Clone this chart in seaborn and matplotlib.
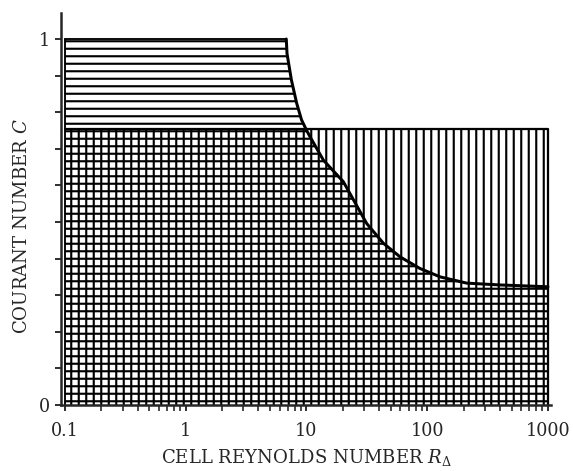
import numpy as np
import matplotlib
matplotlib.use("Agg")
import matplotlib.pyplot as plt
from matplotlib.ticker import NullFormatter, LogLocator
import seaborn as sns

# ---- data ----
reynolds = [6.8, 6.9, 7.5, 8.3, 9.1, 10.0, 10.7, 13.8, 20.2, 31.5, 43.3, 59.4, 87, 128, 212, 400, 1000]
courant = [1.0, 0.96, 0.888, 0.824, 0.779, 0.751, 0.733, 0.669, 0.610, 0.496, 0.442, 0.405, 0.373, 0.350, 0.333, 0.328, 0.323]
c_upper = 1.0          # upper limit of the horizontally hatched region
c_vertical_top = 0.755  # top of the vertically hatched region
re_min, re_max = 0.1, 1000

xticks = [0.1, 1, 10, 100, 1000]
xtick_labels = ["0.1", "1", "10", "100", "1000"]
yticks = [0.0, 0.1, 0.2, 0.3, 0.4, 0.5, 0.6, 0.7, 0.8, 0.9, 1.0]
ytick_labels = ["0", "", "", "", "", "", "", "", "", "", "1"]

# ---- style ----
sns.set_style("ticks")
plt.rcParams["font.family"] = ["DejaVu Serif"]
plt.rcParams["mathtext.fontset"] = "dejavuserif"
plt.rcParams["hatch.linewidth"] = 1.7
plt.rcParams["hatch.color"] = "black"

DPI = 90
W, H = 573, 471
fig = plt.figure(figsize=(W / DPI, H / DPI), dpi=DPI)
fig.patch.set_facecolor("white")
ax = fig.add_axes([61 / W, 1 - 405 / H, 490 / W, 392 / H])
ax.set_facecolor("white")

# horizontally hatched region (under the curve)
hx = [re_min] + reynolds
hy = [c_upper] + courant
ax.fill_between(hx, 0, hy, hatch="--", facecolor="none", edgecolor="black", linewidth=0)

# vertically hatched region (rectangle)
ax.fill_between([re_min, re_max], 0, c_vertical_top, hatch="||", facecolor="none",
                edgecolor="black", linewidth=0)

# curve
sns.lineplot(x=reynolds, y=courant, color="black", linewidth=2.4, ax=ax,
             sort=False, estimator=None)
# boundaries
sns.lineplot(x=[re_min, reynolds[0]], y=[c_upper, c_upper], color="black", linewidth=1.5, ax=ax,
             sort=False, estimator=None)
sns.lineplot(x=[re_min, re_max, re_max], y=[c_vertical_top, c_vertical_top, 0], color="black",
             linewidth=1.8, ax=ax, sort=False, estimator=None)
sns.lineplot(x=[re_min, re_min], y=[0, c_upper], color="black", linewidth=1.5, ax=ax,
             sort=False, estimator=None)

# axes
ax.set_xscale("log")
ax.set_xlim(0.0927, 1059)
ax.set_ylim(0, 1.071)
ax.set_xticks(xticks)
ax.set_xticklabels(xtick_labels)
ax.xaxis.set_minor_locator(LogLocator(base=10, subs=[2, 3, 4, 5, 6, 7, 8, 9]))
ax.xaxis.set_minor_formatter(NullFormatter())
ax.set_yticks(yticks)
ax.set_yticklabels(ytick_labels)

sns.despine(ax=ax)
for s in ["left", "bottom"]:
    ax.spines[s].set_linewidth(2.0)
ax.tick_params(axis="x", which="major", direction="out", length=5, width=1.5, pad=9, labelsize=14)
ax.tick_params(axis="x", which="minor", direction="out", length=5, width=1.3)
ax.tick_params(axis="y", which="major", direction="out", length=4.5, width=1.5, pad=4, labelsize=14)

ax.set_xlabel(r"CELL REYNOLDS NUMBER $R_\Delta$", fontsize=14.5)
ax.set_ylabel(r"COURANT NUMBER $C$", fontsize=14.5)
ax.xaxis.set_label_coords(0.502, -0.133)
ax.xaxis.label.set_va("center")
ax.yaxis.set_label_coords(-0.080, 0.455)
ax.yaxis.label.set_va("center")
ax.yaxis.label.set_ha("center")

fig.savefig("out.png", dpi=DPI, facecolor="white")
